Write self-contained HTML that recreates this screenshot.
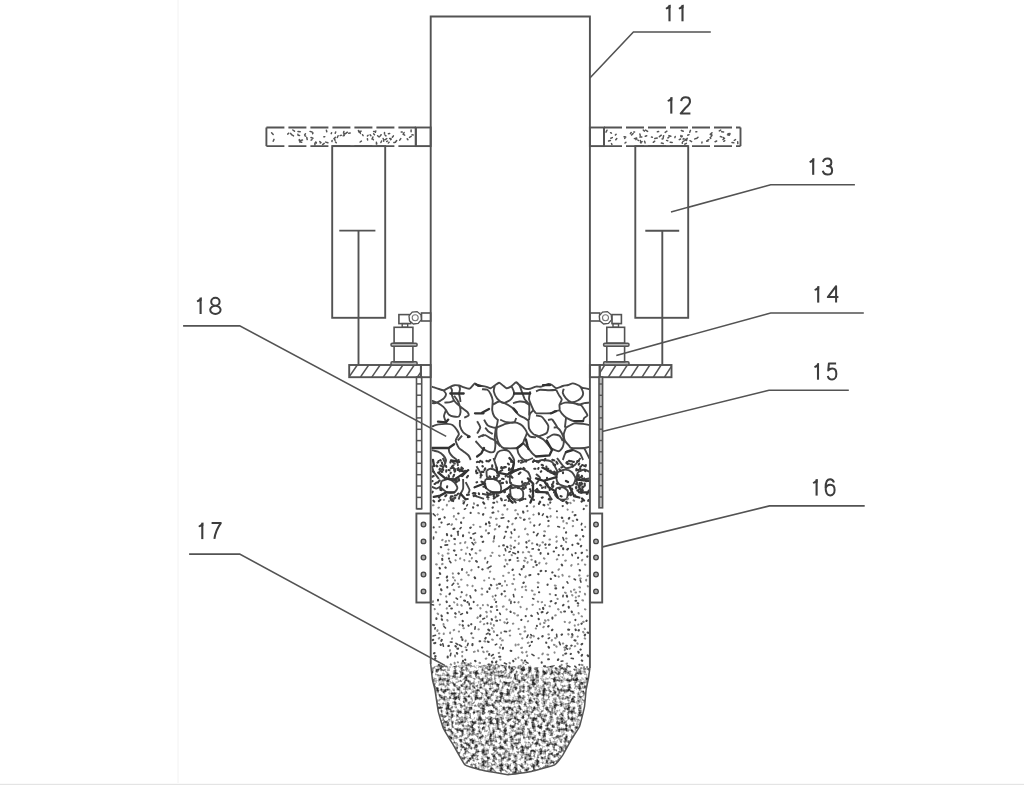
<!DOCTYPE html><html><head><meta charset="utf-8"><style>html,body{margin:0;padding:0;background:#fff;width:1024px;height:785px;overflow:hidden}svg{display:block}</style></head><body><svg width="1024" height="785" viewBox="0 0 1024 785"><defs>
<filter id="turb" x="425" y="640" width="170" height="145" filterUnits="userSpaceOnUse">
<feTurbulence type="fractalNoise" baseFrequency="0.28" numOctaves="2" seed="3" result="n"/>
<feColorMatrix type="matrix" values="0 0 0 0 0  0 0 0 0 0  0 0 0 0 0  -2.9 0 0 0 1.75" in="n" result="a"/>
<feFlood flood-color="#2c2c2c"/>
<feComposite in2="a" operator="in" result="c"/>
<feComposite in="c" in2="SourceGraphic" operator="in"/>
</filter>
<clipPath id="hl"><rect x="349.2" y="365" width="71.5" height="12.2"/></clipPath>
<clipPath id="hr"><rect x="599.7" y="365" width="72" height="12.2"/></clipPath>
<clipPath id="col"><rect x="431.6" y="370" width="157.4" height="140"/></clipPath>
<filter id="gb" x="0" y="0" width="1024" height="785" filterUnits="userSpaceOnUse"><feGaussianBlur stdDeviation="0.4"/></filter></defs><g filter="url(#gb)"><line x1="178" y1="0" x2="178" y2="783" stroke="#f2f2f2" stroke-width="1"/><path d="M430.7 664 L432.5 680 L435 690 L438.3 711.6 L443.3 728.2 L453.2 744.8 L464.9 764.8 L479.8 769.7 L508 774.7 L531.3 771.4 L554.6 764.8 L562.9 754.8 L571.2 739.8 L579.5 726.5 L584.5 706.6 L586.1 690 L588.5 678 L589.9 668 L589.9 668 L570 669 L555 665 L540 668 L525 664 L510 667 L495 663 L480 666 L465 662 L452 667 L440 664 L430.7 668Z" fill="#000" filter="url(#turb)"/><polyline points="430.7,664 430.7,16.5 589.9,16.5 589.9,668" stroke="#535353" stroke-width="1.9" fill="none"/><path d="M430.7 664C430.8 664.8 432.3 678.7 432.5 680C432.7 681.3 434.7 688.4 435 690C435.3 691.6 437.9 709.7 438.3 711.6C438.7 713.5 442.6 726.5 443.3 728.2C444 729.9 452.1 743 453.2 744.8C454.3 746.6 463.6 763.6 464.9 764.8C466.2 766 477.6 769.2 479.8 769.7C482 770.2 505.4 774.6 508 774.7C510.6 774.8 529 771.9 531.3 771.4C533.6 770.9 553 765.6 554.6 764.8C556.2 764 562.1 756 562.9 754.8C563.7 753.5 570.4 741.2 571.2 739.8C572 738.4 578.8 728.2 579.5 726.5C580.2 724.8 584.2 708.4 584.5 706.6C584.8 704.8 585.9 691.4 586.1 690C586.3 688.6 588.3 679.1 588.5 678C588.7 676.9 589.8 668.5 589.9 668" stroke="#535353" stroke-width="1.5" fill="none"/><path d="M266.4 127.5H415.8M266.4 146.1H415.8" stroke="#535353" stroke-width="1.8" stroke-dasharray="18 4" fill="none"/><line x1="266.4" y1="127.5" x2="266.4" y2="146.1" stroke="#535353" stroke-width="1.9"/><line x1="415.8" y1="127.5" x2="415.8" y2="146.1" stroke="#535353" stroke-width="1.9"/><rect x="415.8" y="127.5" width="14.9" height="18.6" stroke="#535353" stroke-width="1.9" fill="none" /><rect x="589.9" y="127.5" width="14.1" height="18.6" stroke="#535353" stroke-width="1.9" fill="none" /><path d="M604 127.5H740.5M604 146.1H740.5" stroke="#535353" stroke-width="1.8" stroke-dasharray="18 4" fill="none"/><line x1="604" y1="127.5" x2="604" y2="146.1" stroke="#535353" stroke-width="1.9"/><line x1="740.5" y1="127.5" x2="740.5" y2="146.1" stroke="#535353" stroke-width="1.9"/><rect x="332.2" y="146.1" width="53" height="171.7" stroke="#535353" stroke-width="1.9" fill="none" /><rect x="635.3" y="146.1" width="52.9" height="171.7" stroke="#535353" stroke-width="1.9" fill="none" /><line x1="339.3" y1="230.6" x2="375.4" y2="230.6" stroke="#535353" stroke-width="1.9"/><line x1="358.5" y1="230.6" x2="358.5" y2="365" stroke="#535353" stroke-width="1.9"/><line x1="645.3" y1="230.7" x2="679.2" y2="230.7" stroke="#535353" stroke-width="1.9"/><line x1="662.3" y1="230.7" x2="662.3" y2="365" stroke="#535353" stroke-width="1.9"/><rect x="349.2" y="365" width="71.7" height="12.2" stroke="#535353" stroke-width="1.9" fill="none" /><rect x="420.9" y="365" width="9.8" height="12.2" stroke="#535353" stroke-width="1.9" fill="none" /><rect x="589.9" y="365" width="9.8" height="12.2" stroke="#535353" stroke-width="1.9" fill="none" /><rect x="599.7" y="365" width="71.8" height="12.2" stroke="#535353" stroke-width="1.9" fill="none" /><g clip-path="url(#hl)"><line x1="349" y1="377.2" x2="357.3" y2="365" stroke="#535353" stroke-width="1.5"/><line x1="360.4" y1="377.2" x2="368.7" y2="365" stroke="#535353" stroke-width="1.5"/><line x1="371.8" y1="377.2" x2="380.1" y2="365" stroke="#535353" stroke-width="1.5"/><line x1="383.2" y1="377.2" x2="391.5" y2="365" stroke="#535353" stroke-width="1.5"/><line x1="394.6" y1="377.2" x2="402.9" y2="365" stroke="#535353" stroke-width="1.5"/><line x1="406" y1="377.2" x2="414.3" y2="365" stroke="#535353" stroke-width="1.5"/><line x1="417.4" y1="377.2" x2="425.7" y2="365" stroke="#535353" stroke-width="1.5"/><line x1="428.8" y1="377.2" x2="437.1" y2="365" stroke="#535353" stroke-width="1.5"/></g><g clip-path="url(#hr)"><line x1="585.8" y1="377.2" x2="593.6" y2="365" stroke="#535353" stroke-width="1.5"/><line x1="597" y1="377.2" x2="604.8" y2="365" stroke="#535353" stroke-width="1.5"/><line x1="608.3" y1="377.2" x2="616.1" y2="365" stroke="#535353" stroke-width="1.5"/><line x1="619.5" y1="377.2" x2="627.3" y2="365" stroke="#535353" stroke-width="1.5"/><line x1="630.8" y1="377.2" x2="638.6" y2="365" stroke="#535353" stroke-width="1.5"/><line x1="642" y1="377.2" x2="649.8" y2="365" stroke="#535353" stroke-width="1.5"/><line x1="653.3" y1="377.2" x2="661.1" y2="365" stroke="#535353" stroke-width="1.5"/><line x1="664.5" y1="377.2" x2="672.3" y2="365" stroke="#535353" stroke-width="1.5"/></g><rect x="391" y="361.8" width="26.1" height="3.2" rx="1.2" stroke="#535353" stroke-width="1.5" fill="#bbb"/><rect x="394.1" y="346.1" width="18.8" height="15.7" stroke="#535353" stroke-width="1.6" fill="none" /><rect x="391" y="343.2" width="26.1" height="3" rx="1.2" stroke="#535353" stroke-width="1.5" fill="#bbb"/><rect x="394.1" y="327.3" width="18.8" height="15.9" stroke="#535353" stroke-width="1.6" fill="none" /><rect x="603.6" y="361.8" width="25.4" height="3.2" rx="1.2" stroke="#535353" stroke-width="1.5" fill="#bbb"/><rect x="606.8" y="346.1" width="17.8" height="15.7" stroke="#535353" stroke-width="1.6" fill="none" /><rect x="603.6" y="343.2" width="25.4" height="3" rx="1.2" stroke="#535353" stroke-width="1.5" fill="#bbb"/><rect x="606.8" y="327.3" width="17.8" height="15.9" stroke="#535353" stroke-width="1.6" fill="none" /><rect x="398.9" y="314.6" width="11.8" height="9" stroke="#535353" stroke-width="1.6" fill="none" /><rect x="402.2" y="323.6" width="5.5" height="3.7" stroke="#535353" stroke-width="1.4" fill="none" /><rect x="421.5" y="313" width="9.2" height="8" stroke="#535353" stroke-width="1.6" fill="none" /><polygon points="421.4,319.7 418.2,323.5 413.3,324 409.5,320.8 409,315.9 412.2,312.1 417.1,311.6 420.9,314.8" stroke="#535353" stroke-width="1.3" fill="#fff"/><circle cx="415.2" cy="317.8" r="3" stroke="#777" stroke-width="1.1" fill="#fff"/><rect x="612" y="314.6" width="9.4" height="9" stroke="#535353" stroke-width="1.6" fill="none" /><rect x="613" y="323.6" width="5.5" height="3.7" stroke="#535353" stroke-width="1.4" fill="none" /><rect x="589.9" y="313" width="9.8" height="8" stroke="#535353" stroke-width="1.6" fill="none" /><polygon points="611.7,319.7 608.5,323.5 603.6,324 599.8,320.8 599.3,315.9 602.5,312.1 607.4,311.6 611.2,314.8" stroke="#535353" stroke-width="1.3" fill="#fff"/><circle cx="605.5" cy="317.8" r="3" stroke="#777" stroke-width="1.1" fill="#fff"/><rect x="416.5" y="377" width="5.2" height="131.7" stroke="#535353" stroke-width="1.6" fill="none" /><line x1="416.5" y1="383.9" x2="421.7" y2="383.9" stroke="#535353" stroke-width="1.5"/><line x1="416.5" y1="395.2" x2="421.7" y2="395.2" stroke="#535353" stroke-width="1.5"/><line x1="416.5" y1="406.6" x2="421.7" y2="406.6" stroke="#535353" stroke-width="1.5"/><line x1="416.5" y1="417.9" x2="421.7" y2="417.9" stroke="#535353" stroke-width="1.5"/><line x1="416.5" y1="429.3" x2="421.7" y2="429.3" stroke="#535353" stroke-width="1.5"/><line x1="416.5" y1="440.6" x2="421.7" y2="440.6" stroke="#535353" stroke-width="1.5"/><line x1="416.5" y1="452" x2="421.7" y2="452" stroke="#535353" stroke-width="1.5"/><line x1="416.5" y1="463.3" x2="421.7" y2="463.3" stroke="#535353" stroke-width="1.5"/><line x1="416.5" y1="474.7" x2="421.7" y2="474.7" stroke="#535353" stroke-width="1.5"/><line x1="416.5" y1="486" x2="421.7" y2="486" stroke="#535353" stroke-width="1.5"/><line x1="416.5" y1="497.4" x2="421.7" y2="497.4" stroke="#535353" stroke-width="1.5"/><line x1="416.5" y1="508.8" x2="421.7" y2="508.8" stroke="#535353" stroke-width="1.5"/><rect x="599" y="377" width="3.6" height="130.8" stroke="#535353" stroke-width="1.6" fill="#bdbdbd" /><line x1="599" y1="384" x2="602.6" y2="384" stroke="#535353" stroke-width="1.4"/><line x1="599" y1="395.3" x2="602.6" y2="395.3" stroke="#535353" stroke-width="1.4"/><line x1="599" y1="406.6" x2="602.6" y2="406.6" stroke="#535353" stroke-width="1.4"/><line x1="599" y1="417.9" x2="602.6" y2="417.9" stroke="#535353" stroke-width="1.4"/><line x1="599" y1="429.2" x2="602.6" y2="429.2" stroke="#535353" stroke-width="1.4"/><line x1="599" y1="440.5" x2="602.6" y2="440.5" stroke="#535353" stroke-width="1.4"/><line x1="599" y1="451.8" x2="602.6" y2="451.8" stroke="#535353" stroke-width="1.4"/><line x1="599" y1="463.1" x2="602.6" y2="463.1" stroke="#535353" stroke-width="1.4"/><line x1="599" y1="474.4" x2="602.6" y2="474.4" stroke="#535353" stroke-width="1.4"/><line x1="599" y1="485.7" x2="602.6" y2="485.7" stroke="#535353" stroke-width="1.4"/><line x1="599" y1="497" x2="602.6" y2="497" stroke="#535353" stroke-width="1.4"/><rect x="416.4" y="513.5" width="14.3" height="89" stroke="#535353" stroke-width="1.9" fill="none" /><rect x="589.9" y="513.5" width="12.3" height="89" stroke="#535353" stroke-width="1.9" fill="none" /><circle cx="423.5" cy="524.5" r="2.3" stroke="#444" stroke-width="1.3" fill="#aaa"/><circle cx="596" cy="524.5" r="2.3" stroke="#444" stroke-width="1.3" fill="#aaa"/><circle cx="423.5" cy="541.4" r="2.3" stroke="#444" stroke-width="1.3" fill="#aaa"/><circle cx="596" cy="541.4" r="2.3" stroke="#444" stroke-width="1.3" fill="#aaa"/><circle cx="423.5" cy="557.5" r="2.3" stroke="#444" stroke-width="1.3" fill="#aaa"/><circle cx="596" cy="557.5" r="2.3" stroke="#444" stroke-width="1.3" fill="#aaa"/><circle cx="423.5" cy="574.5" r="2.3" stroke="#444" stroke-width="1.3" fill="#aaa"/><circle cx="596" cy="574.5" r="2.3" stroke="#444" stroke-width="1.3" fill="#aaa"/><circle cx="423.5" cy="591.4" r="2.3" stroke="#444" stroke-width="1.3" fill="#aaa"/><circle cx="596" cy="591.4" r="2.3" stroke="#444" stroke-width="1.3" fill="#aaa"/><g clip-path="url(#col)"><path d="M431.6 386.6C432.2 386.8 435.6 388 437 388.4C438.4 388.8 442.3 390.2 443.4 390.3C444.4 390.4 445.2 389.6 446 389.2C446.8 388.8 449.3 387.3 450.3 386.8C451.3 386.3 453.6 385.4 454.6 385.2C455.6 385 457.9 385.3 458.9 385.5C459.9 385.7 462 386.7 463.2 387.1C464.4 387.5 468.2 389.1 469.6 388.7C471 388.3 473.9 383.7 474.9 383.4C475.9 383.1 477.4 385.7 478.2 386C479 386.3 480.9 385.9 482 386C483.1 386.1 486.4 386.8 487.4 387.1C488.4 387.4 489.7 388.4 490.6 388.2C491.5 388 493.8 386.1 494.8 385.5C495.8 384.9 498.2 382.9 499.1 382.8C500 382.7 501.4 384.4 502.3 385C503.2 385.6 505.6 388 506.6 388.2C507.6 388.4 509.8 387.3 510.9 386.6C512 385.9 515.2 382.5 516.2 382.3C517.2 382.1 518.5 384.3 519.5 385C520.5 385.7 523.6 388.3 524.8 388.7C526 389.1 528.9 388.9 530.2 388.7C531.5 388.5 534.7 386.8 536 386.6C537.3 386.4 540 386.9 541.4 386.6C542.8 386.3 547.1 384.1 548.3 383.9C549.5 383.7 551.1 384.5 552 385C552.9 385.5 555 388.1 556.3 388.2C557.6 388.3 561.4 386.4 562.8 386C564.2 385.6 566.9 385.3 568.1 385C569.3 384.7 571.7 383.3 572.9 383.4C574.1 383.5 577.7 385 578.8 385.5C579.9 386 580.8 387.2 582 387.6C583.2 388 588.6 389 589.5 389.2M443.4 390.3C443.7 390.7 445.9 393.1 446 394C446.1 394.9 445 397 444.4 397.8C443.8 398.6 441.8 399.9 440.7 400.5C439.6 401.1 436.5 402.8 435.4 403.1C434.3 403.4 432 403.1 431.6 403.1M431.6 400.5C432.3 400.8 436.6 402.4 438 403.1C439.4 403.8 442.5 406.1 443.4 406.9C444.3 407.7 445.4 409.2 446 410.1C446.6 411 447.8 413.7 448.7 414.4C449.6 415.1 452.3 416.3 453.5 416.5C454.7 416.7 458.1 417 458.9 416.5C459.7 416 460.4 413.3 460.5 412.2C460.6 411.1 460.3 408.2 460 406.9C459.7 405.6 458.5 402.3 457.8 401C457.1 399.7 454.5 396.3 454.1 395.7M444.4 402.6C445.1 402.5 449.2 402.3 450.3 402.1C451.4 401.9 453.7 400.7 454.1 400.5M450.3 386.8C450.5 387.2 451.9 389.2 452 390C452.1 390.8 451.5 393.1 451.4 393.5M458.9 385.5C459 385.9 460 388.1 460 389C460 389.9 459.1 393 459 393.5M451.4 393.5C451.6 394.2 452.9 398.2 453.5 399.4C454.1 400.6 455.8 402.7 456.8 403.7C457.8 404.7 460.9 407 462.1 408C463.3 409 466.8 411.3 467.5 412.2C468.2 413.1 468.9 414.9 468.5 415.5C468.1 416.1 464.7 417.4 464.2 417.6M458.9 393.5C459 394.1 459.8 397.3 460 398.3C460.2 399.3 460.4 401.7 460.5 402.1M494.8 385.5C494.7 386.2 493.5 389.9 493.8 391.4C494.1 392.9 495.9 396.9 497 398.3C498.1 399.7 501.8 403 503.4 403.1C505 403.2 509.7 400.5 510.9 399.4C512.1 398.3 514 394.9 514.1 393.5C514.2 392.1 512.4 387.9 512 387.1C511.6 386.3 511 386.7 510.9 386.6M482 389.2C482.6 389.3 486.4 389.2 487.4 389.8C488.4 390.4 490 392.8 490.6 394C491.2 395.2 492.5 398.6 492.7 400.5C492.9 402.4 492 408.2 492.2 410.1C492.4 412 493.6 415.3 494.3 416.5C495 417.7 497.6 419.6 498 420M492.7 404.8C493.4 404.4 497.7 401.7 499.1 401.5C500.5 401.3 503 402.4 504.5 403.1C506 403.8 510.8 406.5 512 407.4C513.2 408.3 514.3 410.3 515.2 411.2C516.1 412.1 518.4 414.7 519.5 415.5C520.6 416.3 524.2 417.8 524.8 418.1M513 403.1C513.8 402.9 518.1 401.6 519.5 401.5C520.9 401.4 523.7 401.7 524.8 402.1C525.9 402.5 528.6 404.5 529.1 404.8M516.2 382.3C516.6 382.7 518.7 384.1 519.5 385.5C520.3 386.9 522.1 392.4 522.7 394C523.3 395.6 524.1 398.1 524.8 399.4C525.5 400.7 528.6 402.9 529.1 404.8C529.6 406.7 529.1 414.3 529.1 415.5M530.2 391.4C530.1 392.3 528.7 397.2 529.1 399.4C529.5 401.6 532.9 408.9 533.4 410.1M536 391.4C536.5 391.2 538.7 389.9 540.3 389.8C541.9 389.7 547.5 390.3 549.4 390.3C551.3 390.3 555.5 389.9 556.3 389.8M556.3 389.8C556.6 390.4 558.4 394 559 395.1C559.6 396.2 561.6 398.3 561.7 399.4C561.8 400.5 559.8 403.6 559.5 404.8C559.2 406 560.1 409.4 559.5 410.1C558.9 410.8 555.7 410.8 554.7 411.2C553.7 411.6 553.2 413.1 551 413.3C548.8 413.5 537.8 413.3 536 413.3M533.4 410.1 L536 413.3M563.8 388.7C563.7 389.2 562.5 391.9 562.8 393C563.1 394.1 565 397.2 566 398.3C567 399.4 569.9 401.8 571.3 402.1C572.7 402.4 576.5 401.1 577.7 400.5C578.9 399.9 581.4 397.6 582 396.7C582.6 395.8 583.2 394.1 583.1 393C583 391.9 581.5 388.5 581 387.6C580.5 386.7 579.1 385.7 578.8 385.5M559.5 404.8C560.1 404.5 563.3 402.8 564.9 402.6C566.5 402.4 571.9 402.8 573.5 403.1C575.1 403.4 577.6 404.8 578.8 404.8C580 404.8 583 403.4 584.2 403.1C585.4 402.8 588.9 402.7 589.5 402.6M559.5 410.1C559.8 410.5 560.9 412.4 561.7 413.3C562.5 414.2 564.9 416.8 566 417.6C567.1 418.4 569.8 419.6 570.8 420C571.8 420.4 574.1 421.1 574.5 421.2M573.5 403.1C574.4 403.4 579.6 404.4 581 405.3C582.4 406.2 584.5 410 585.2 411.2C585.9 412.4 587.5 414.7 587.4 415.5C587.3 416.3 584.7 417.3 584.2 418C583.7 418.7 583.2 420.8 583.1 421.2M536 415.5C536.6 415.6 540.4 416 541.4 416.5C542.4 417 543.8 418.9 544.6 420C545.4 421.1 548.1 424.5 548.3 426C548.5 427.5 547.8 431.8 546.7 433C545.6 434.2 540.4 436 539.2 436.2C538 436.4 536.4 435.2 536 435.1M533.4 410.1C533 410.6 530.5 412.8 530 414C529.5 415.2 529.1 419.3 529 420M431.6 426.6C432.4 426.3 436.8 424.7 438.6 424.4C440.4 424.1 445.5 423.8 447.1 423.9C448.7 424 451.4 424.3 452.5 425C453.6 425.7 456.1 428.7 456.8 429.8C457.5 430.9 459 432.9 458.9 434.1C458.8 435.3 455.7 438.9 455.7 440.5C455.7 442.1 458 446.8 458.9 448C459.8 449.2 462.1 450.3 463.2 451.2C464.3 452.1 467.6 454.5 468.5 455.5C469.4 456.5 470.4 459.5 470.7 460M460 420.1C460 420.8 459.6 424.6 460 426C460.4 427.4 462.1 431.2 463.2 432.4C464.3 433.6 468.9 436.2 469.6 436.7M462.1 435.7 L457.8 440.5M477.1 421.2C477.5 421.9 480.3 426.2 480.3 427.6C480.3 429 477.5 432.8 477.1 433.5M448.7 448C448.8 448.5 448.9 451.2 449.3 452.2C449.7 453.2 451.6 455.6 452.5 456.5C453.4 457.4 456.2 458.9 456.8 460C457.4 461.1 457.9 465.3 458 466M431.6 450.1C432.3 450.3 436.6 451.1 438 451.7C439.4 452.3 442.5 454.5 443.4 455.5C444.3 456.5 445.8 459.1 446 460C446.2 460.9 445.7 462.1 445.3 463.1C444.9 464.1 443.4 467.1 442.7 468.2C442 469.3 439.3 472.1 438.9 472.6M478.2 437.3 L484 434.6M475.5 441C476.1 441.6 479.3 445.3 480.3 446.4C481.3 447.5 483.6 449.7 484 450.1M446 410.1C445.8 410.8 444 414.6 444 416C444 417.4 445.8 421.6 446 422.3M497 427.6C498 427.2 503.5 424.5 505.5 423.9C507.5 423.3 512.4 422.2 514.1 422.3C515.9 422.4 519.3 423.7 520.5 424.4C521.7 425.1 524.1 427.7 524.8 428.7C525.5 429.7 527 431.8 526.9 433C526.8 434.2 524.8 438.2 524.3 439.4C523.8 440.6 523.5 442.7 522.7 443.7C521.9 444.7 519.6 447.5 517.3 448C515 448.5 505.5 448.5 503.4 448C501.3 447.5 499.8 444.8 499.1 443.7C498.4 442.6 497.3 439.7 497 438.3C496.7 436.9 496.4 432.6 496.4 431.4C496.4 430.2 496.9 428 497 427.6M500.2 419.6C500.9 419.9 505 422 506.6 422.3C508.2 422.6 513 422.8 514.1 422.3C515.2 421.8 516 418.5 516.2 418M484.1 419.6C484.5 420.3 486.5 424.6 487.9 425.5C489.3 426.4 494.7 428.3 495.9 427.6C497.1 426.9 497.8 420.1 498 419.1M495.9 427.6C495.8 428.7 494.9 434.7 494.8 436.7C494.7 438.7 495.5 443.1 495.4 444.8C495.3 446.5 494.9 450.3 494.3 451.2C493.7 452.1 491.2 452.4 490 452.2C488.8 452 485 450.1 484.1 449.6C483.2 449.1 482.2 448.2 482 448M482 436.2C482.4 436.1 484.2 434.9 485.2 435.1C486.2 435.3 489.5 437.7 490.6 438.3C491.7 438.9 493.7 439.6 494.8 440.5C495.9 441.4 499.6 445.7 500.2 446.4M485.2 427.6C485.6 428 487.5 430.7 488.4 431.4C489.3 432.1 492.2 433.7 492.7 434M494.3 460C494.7 459.1 496.9 453.4 498 452.2C499.1 451 502.1 450.2 503.4 450.1C504.7 450 507.8 450.6 508.8 451.2C509.8 451.8 511.4 454.5 512 455.5C512.6 456.5 513.9 459.1 514.1 460C514.3 460.9 514 462 513.8 463.1C513.6 464.2 513.2 468.3 512.6 469.5C512 470.7 509.2 472.9 508.8 473.3M517.3 448C517.4 448.6 517.8 452.1 518.4 453.3C519 454.5 521.7 457.9 522.7 458.7C523.7 459.5 525.4 460.6 526.6 460.5C527.8 460.4 532.3 458.3 533 458M523.7 443.7C524.2 444.2 527 446.9 528 448C529 449.1 531.4 452.3 532.3 453.3C533.2 454.3 535.6 456.1 536 456.5M527 433C527.4 433.4 529.2 436.2 530.2 436.7C531.2 437.2 535.3 437.2 536 437.3M528.5 420.7C528.6 421.6 528.5 427.1 529.1 428.7C529.7 430.3 532.6 433.4 533.4 434.1C534.2 434.8 535.7 435 536 435.1M524.8 418.1 L528.5 420.7M566 427.6C567 427.1 572.5 423.8 574.5 423.4C576.5 423 581.4 423.7 583.1 423.9C584.8 424.1 588.3 424.9 589 425M566 427.6C565.7 428.4 563.9 432.6 563.8 434.1C563.7 435.6 564.3 439.1 564.9 440.5C565.5 441.9 568.5 444.9 569.2 445.8C569.9 446.7 569.5 447.7 571.3 448C573 448.3 582.1 448.1 584.2 448C586.3 447.9 588.4 447 589 446.9M536 435.7C536.9 436.1 541.8 438 543.5 439.4C545.2 440.8 549.2 446.6 551 448C552.8 449.4 557.1 451.3 558.5 451.2C559.9 451.1 562.2 448.3 562.8 446.9C563.4 445.5 563.9 441 563.8 439.4C563.7 437.8 562.4 434.4 561.7 433C561 431.6 558.3 428.2 557.4 427.6C556.5 427 554.1 427.6 553.7 427.6M546.7 438.3C547.4 437.9 551.6 434.9 553.1 434.6C554.6 434.3 558.4 435 559.5 435.7C560.6 436.4 562.4 440.4 562.8 441M552 419.1C552.5 419.8 555.7 424.5 556.3 425.5C556.9 426.5 557.3 427.4 557.4 427.6M566 418 L564.9 427.6M562.8 460C563.2 459.1 564.9 453.4 566 452.2C567.1 451 570.8 450 572.4 450.1C574 450.2 578.7 452.1 579.9 453.3C581.1 454.5 582.7 459.2 583.1 460M584.2 448C584.6 448.7 586.8 453.2 587.4 454.4C588 455.6 589.3 458.2 589.5 458.7M564.9 441 L569.2 445.8M548 420 L552 419.1M441.5 481C442.2 480.8 446.3 478.9 447.8 479C449.3 479.1 453.1 481.2 454.2 482.2C455.3 483.2 457.4 486.7 457.4 487.9C457.4 489.1 455.4 491.9 454.2 492.4C453 492.9 448.8 493 447.2 492.4C445.6 491.8 441.5 488.6 440.8 487.3C440.1 486 441.4 481.7 441.5 481M442.7 458 L445.3 463.1M431.9 465.6C432.1 466.3 433 470.4 433.8 472C434.6 473.6 438.3 478.2 438.9 479M431.9 486.7C432.4 486.9 435.4 488.6 436.4 488.6C437.4 488.6 439.8 486.9 440.2 486.7M463.1 479C463.1 480.1 463.4 486.9 463.1 488.6C462.8 490.3 461.1 492.4 460.6 493.7C460.1 495 458.9 498.7 458.7 499.4M465.7 482.2C466.1 483.1 469.2 488.5 469.5 489.8C469.8 491.1 468.4 493.2 468.2 493.7M476.5 466.3C477 467.2 480.6 472.5 481 473.9C481.4 475.3 480.4 477.9 480.3 478.4M475.9 496.2 L484 498.8M451 460.5 L455.5 464.4M485.8 479C486.7 479 492 478.7 493.5 479C495 479.3 497.7 480.6 498.6 481.6C499.5 482.6 501 486 501.1 487.3C501.2 488.6 500.8 491.8 499.8 492.4C498.8 493 494.4 492.9 492.8 492.4C491.2 491.9 486.8 488.9 485.8 487.9C484.8 486.9 484.5 484.5 484.5 483.5C484.5 482.5 485.6 479.5 485.8 479M510 474.6C510.6 474.1 513.8 471.4 515.1 470.7C516.4 470 520 468.6 521.5 468.8C523 469 526.9 470.9 527.9 472C528.9 473.1 530.6 476.9 530.4 478.4C530.2 479.9 527.6 483.9 526.6 484.8C525.6 485.7 523 485.9 521.5 486C520 486.1 515.1 485.8 513.8 485.4C512.5 485 510.4 483.5 510 482.2C509.6 480.9 510 475.5 510 474.6M510 488.6C510.9 488.4 516.2 487 517.7 487.3C519.2 487.6 522.2 489.9 522.8 491.1C523.4 492.3 523.4 496.5 522.8 497.5C522.2 498.5 519 500 517.7 500C516.4 500 512.2 498.8 511.3 497.5C510.4 496.2 510.2 489.6 510 488.6M486.5 470.7C486.9 470.5 489.2 468.8 490.3 468.8C491.4 468.8 495 469.9 496 470.7C497 471.5 499.5 474.8 499.2 475.8C498.9 476.8 494.9 478.8 493.5 479C492.1 479.2 487.9 478.1 487.1 477.1C486.3 476.1 486.6 471.4 486.5 470.7M482 493.7C482.7 493.8 486.9 494.9 488.4 494.9C489.9 494.9 494 493.8 494.7 493.7M493.5 458 L496.6 467.6M520.2 463.1 L526.6 460.5M521.5 486C521.9 485.6 524 483.2 525 483C526 482.8 529.4 483.9 530 484M557.7 472C558.6 471.7 563.7 469.5 565.3 469.5C566.9 469.5 570.5 471 571.7 472C572.9 473 575.3 476.9 575.5 478.4C575.7 479.9 574 483.8 573 484.8C572 485.8 568.2 486.8 566.6 486.7C565 486.6 560.1 485.1 558.9 484.1C557.7 483.1 556.5 479.8 556.4 478.4C556.3 477 557.5 472.7 557.7 472M556.4 488C557.1 487.9 561.5 486.9 562.8 487.3C564.1 487.7 567.4 489.8 567.8 491.1C568.2 492.4 567.5 497.8 566.6 498.8C565.7 499.8 561.5 499.8 560.2 499.4C558.9 499 555.5 496.3 555.1 495C554.7 493.7 556.2 488.8 556.4 488M578 472C578.7 471.7 583.1 469.5 584.4 469.5C585.7 469.5 588.9 471.7 589.5 472M589.5 478.4C588.5 478.6 582.1 479.9 580.6 479.7C579.1 479.5 577.1 478 576.8 477.1C576.5 476.2 577.9 472.6 578 472M557 458C557.7 458.9 561.7 464.4 562.8 465.6C563.9 466.8 565.3 468.2 566.6 468.2C567.9 468.2 572.6 466.8 574.2 465.6C575.8 464.4 579.9 458.9 580.6 458M575.5 478.4C575.8 479.1 577.4 483.5 578 484.8C578.6 486.1 580.1 488.8 580.6 489.8C581.1 490.8 581.7 493.2 581.9 493.7M536 462C536.7 461.8 540.1 460 542 460C543.9 460 550.2 460.6 552 462C553.8 463.4 557 470.8 557.7 472M536 474C536.5 474.5 540 476.8 540 478C540 479.2 536.5 483.3 536 484M547.5 492.4 L552 500" stroke="#474747" stroke-width="1.9" fill="none" stroke-linejoin="round"/><path d="M438 421.7 L446 422.3 L448.2 419.6M450.3 393.5 L455.7 393.5 L463.7 393.5M475 413.3 L483.5 413.3M514.1 393.5 L519.5 393.5 L530.2 393.5M482 412.8 L489 409M513.6 408.5 L516.8 412.2M543 385.2 L550 385.2M476 384.5 L480.5 385.8M551 413.3 L556 411.2M574.5 421.2 L583.1 421.2M431.6 448 L448.7 448 L454.1 444.2M468 437 L469.6 436.7M484 448 L481.4 453.3 L477.1 456.5M517.3 448 L522.7 443.7M525.9 439.4 L527.5 445.8 L528.5 449M546.7 440.5 L552 450.1 L549.4 455.5 L536 456.5M447.2 492.4 L454.2 492.4M438.3 472.6 L445.3 478.4 L454.2 479.7 L461.8 474.6 L468.2 470.1M458 470 L466 472 L462 476M451 460.5 L459.3 461.8M433.8 496.9 L440.2 495.6 L445.9 492.4M460.6 493.7 L465.7 499.4M474.6 487.3 L481 484.8 L484 483.5M496.6 467.6 L497.3 472.6 L507.5 474.6 L510.7 472.6 L520.2 468.8M492.2 492.4 L500.5 492.4 L507.5 488.6 L510.7 486M527.9 478.4 L533 483.5 L533 496.2 L530.4 502.6M507.5 496.2 L510 500 L512.6 502.6M509.4 458 L513.8 463.1 L512.6 469.5M576.8 479.7 L590 481M580.6 492.4 L590 492.4M536 491.8 L547.5 492.4M542.4 467.6 L549 471 L555.1 474.6M536 478.4 L543.6 480.9 L556.4 477.1M544.9 482.2 L548.7 487.3 L555.1 491.1 L557.7 497.5M569.1 486 L571.7 491.1 L574.2 496.2 L579.3 497.5M582 498.5 L584 500.5M484.5 483.5 L486 488M433 460 L434 466M566 481 L568 482M566 452.2 L572.4 450.1" stroke="#303030" stroke-width="2.3" fill="none" stroke-linecap="round"/><path d="M482.8 466.5l-0.4 -0.5M511.7 461.6l-0.6 0.3M446.2 478.3l0.3 -0.6M580.8 484.8l-1.7 1.3M439.3 496.9l-0.2 0.7M450.5 473.3l0.3 -0.7M523.3 487.5l-1 1M441.9 462.6l0.5 1.6M499.1 473.5l-1.1 -0.7M479.1 494.2l-0.3 -0.9M522.2 482.6l-0.1 -1M585.9 465.1l-1.6 0.9M455.9 481l1.6 0.4M552 484.6l0.7 -0.7M541.2 485.6l-1.1 -0.6M563.9 500.6l-1.6 0.3M441.5 490.2l-1.3 -1.7M537 461l-0.8 0.2M450.4 462.5l0.1 -0.7M568.8 463.5l-1.4 0.5M570.7 495.2l0.6 -0.7M497.2 475.4l0.7 -0.2M459.7 470l0.1 1.3M581.6 489.7l-1.5 -0.2M538.2 462.3l1.5 -1.1M569.3 494.3l-0.9 0.7M442.6 469l0.6 0.9M440.3 460l0.4 0.5M489.1 461.1l1.1 -1.1M455.3 470.8l-0.6 0.9M451.3 496.5l1.3 -0.1M508 463.7l0.9 0.6M473.6 495.6l0.3 0.5M581.3 482.7l0.9 1.1M436.2 482.7l1.9 -0.3M541.3 471.2l-0.5 0.6M553.2 482.9l0.2 -1M467 494.9l1.9 -0.2M487.8 461.2l1 0.2M582.2 479.2l2 -0.8M581.9 475.7l0.2 0.9M462.9 468.8l-1.4 -1.4M557.5 463.6l-1.1 -1.7M554.8 492.3l-0.8 0.1M555.9 474.3l0.7 -2M494.1 477.3l-0.1 -0.8M451.9 466.5l1.5 -1.1M454.9 495.5l1.6 -0.2M434.2 501.7l-0.8 -1.1M578.6 478.7l1.3 -1.4M465.1 470.8l-0.2 0.9M452.6 499.1l-0.8 1M523.6 498.9l-1.8 1M510.8 482.9l-0.5 -0.1M501.1 467.9l1.9 0M459.1 480.4l-0.2 -1.4M483.2 482.3l-1.7 -0.6M475.5 493.2l-1.5 -0.1M551.3 499.2l-1.4 0.5M503 482.9l-2.1 0.3M541.8 497.7l0.9 -0.3M519.8 500.6l0.4 -0.6M451.1 479l0.8 0.4M572.8 466.6l-0.3 -1.6M454.4 498l0.9 -0.2M581.5 477.1l-2.2 0.2M562.7 466.9l-1.3 0.6M485.2 468.4l-0.7 1.6M435.1 483.8l-0.5 0.2M484 486.8l-0.6 -0M586.7 493.9l0.7 -0.1M554.3 471.6l0.8 0.9M575.1 495.2l-0 0.8M576.3 484.5l-0.2 -0.6M441 489.6l-0.6 0.3M579.3 487.3l0.2 -0.6M566.4 462.9l0.8 -1M485.2 483.8l-0.1 0.7M514.7 470.3l0.6 0.5M439.9 468.7l-0.4 0.9M551.2 472.5l-0.8 -0M486.5 460.8l-0 0.5M547.1 483.7l0.5 1.2M578.7 464.6l0.5 -1.1M509.7 495.9l-1.1 0.8M540 502.2l-1.1 1.6M543 487.3l-0.9 0.6M440.5 465.6l1.6 0.8M445.3 496.2l1.1 -1.2M476.3 470.4l-0.3 1.2M456.7 479.2l-0.2 2.1M584.7 483.5l0.1 2.1M480.6 475.3l1.1 0M506.5 481.6l0.4 1.3M432.8 471.4l1 0.6M438.5 461l-0.3 0.8M535.2 490.8l0.8 -0.8M483.2 502.3l1 1.4M533 461.9l1 -1.7M530.5 491.6l0.3 -0.7M572.2 489.4l-0.3 -0.8M436.9 465.7l-0.4 0.5M530.3 489.3l-0.5 0M547.7 470.8l0.8 0.4M546.5 468.8l-0.1 -2.2M509.5 476.5l-1.6 0.2M552.4 486.5l-0.4 -0.5M455.1 470.9l-0 -1M521.1 460.5l0.9 0.4M537.5 489.8l-0.4 -0.9M450.6 498.4l0.7 2.1M579 460.8l-1.8 0.5M584 479.3l-0.1 0.9M580.5 469.1l-0.6 -0.4M514.3 501l1.3 1.4M511.9 498.1l-0.3 -0.9M432.6 481.1l-1 0.3M454.1 474.8l-0.8 1.8M432.3 492.3l0.4 -0.6M577.4 490.7l0.8 -0.6M490.4 476.9l-0.9 -0.6M499.2 471.8l0.6 0.2M563 472.3l0 1M512.2 468.2l-1.5 1.5M570.8 494.9l-1.4 -1.5M579.7 483.6l-0.1 -0.6M547 479.4l0 -1.6M476.9 462.1l0.6 -0.3M506.1 474.8l-0.5 1.7M585.3 471.2l-0.6 -0.8M457.4 468.9l1.1 -0.7M466.5 499l1.3 -0M453.9 468.3l0.9 0.6M446.3 470.3l-0.1 1.5M571.3 492.2l-1 0.6M441.7 471.9l0.7 -0.1M511 487.1l0.6 -0.7M494.8 479.2l1.9 -0.6M569 460.9l1.7 0.3M432 476.8l1.7 -0.8M566.3 501.8l0 0.7M456.2 482.5l-0.9 -1.9M545.3 487.8l0.1 -1.3M518.6 461.7l0.2 -0.9M576.4 487.8l-0.2 0.7M541.7 464.8l1.3 0.6M526.4 460.4l-0.4 1.2M582.6 487.7l1 -0.9M582.8 490.3l-0.2 0.5M577.3 469.8l1.1 0.2M464.2 501.7l-0.7 1.8M551.4 472.7l1.3 -0.4M461.4 469.6l-1.4 0.8M581 466.3l-0.7 0.5M584.9 466.1l0.6 0.2M493.8 498.6l1.3 -1.2M588.6 500.1l-0.4 0.7M578.9 492.1l1.6 0.3M458.6 460.1l-0.2 1.1M582 465.3l0.8 -0.2M488 495.3l0.5 -1.1M439.7 480.4l-1.4 1.5M462.3 475.7l0.4 -0.3M496.5 494.9l0.1 -0.6M437.5 462.7l0.8 -0.5M549.3 498.6l-0.5 0.8M582.4 486.5l-0.1 1.7M481.7 471.9l1.8 0M575.9 487.3l0.5 -0.2M582.2 501l-0.7 0.6M499.5 481.2l0.7 -0.4M553.3 486.1l-0.5 0.9M488.8 493.6l0.7 0.4M550.2 470.6l0.5 0.2M518.8 474l1.6 -1.5M502.2 470.1l-1.3 0.8M537.8 492.2l0.9 -1.3M451 496.2l-0.4 1.4M490.6 491.7l0.3 0.9M494.2 502.7l-0.9 -0M558.9 488.1l1 0.8M560.6 496.1l1 0.3M450.7 468.2l1.5 -0.3M578 476l0.8 -0.9M472.8 493.4l0.6 -0.2M525.6 486.7l0.2 1.1M454.2 468.8l-0 1.5M534.3 468.7l1.1 0.1M538.5 468l-0.3 0.8M556.9 483.6l0.6 0.3M446.3 467l-0.4 -1.1M476.5 473.2l1 -0.3M567.7 502.9l-0.5 0.6M546.3 468.8l2 0.1M498.5 495.3l-1.7 1.1M504.4 467l1.4 0.1M532.6 499.1l1.3 0.8M476.5 482.4l0.6 -0.3M509 494.6l0.8 -0.2M451.9 500.6l1.3 -0.2M440.4 499.8l-1.6 1.3M529.4 495.5l1 1.6M466.9 477.4l1.1 -1.6M460.7 469.4l-1.1 0.8M492.2 465.3l0 1.7M572.9 461.8l-1.7 -0.7M438 496l1.1 1M518.4 487l-0.4 1.1M502.1 478.8l1.5 0.2M508.9 470.1l0.2 -1.8M504 467.7l-0.7 0.1M452.2 478.5l1 0.7M512.1 461.8l-0.4 -0.5M547.2 493.4l-0.6 -0M511.1 476.2l1.3 1.5M588.4 491.5l0.3 -0.8M586.1 481.2l2 -0.6M457.9 493.9l0.6 -0.3M487.1 492.5l1.1 1.7M475.2 495.1l0.8 1.1M576.4 469l-0.1 1.4M482.1 461.6l0.3 0.7M579 489.2l0.6 -0.5M555.2 464.9l-1.6 -0.3M488.5 497.5l-1.4 -0.5M570.6 464.5l1.6 -0.1M493.9 494.3l-0.2 2.2M501.4 467.6l-0 -0.6M560.7 470.9l-1.4 -1.7M524 488.5l-0.2 0.5M437.3 466.4l-0.9 -0.8M512.5 498.5l0.6 0.7M534.5 461l1.1 0M448.7 475.4l0.2 1.5M524.5 468.8l-0.9 -0.9M453.2 500.3l0 0.8M447 487.4l0.2 -1.2M533.3 484.2l-0.9 1.3M501.7 500.3l-0.1 -0.9M573.9 461.9l-1.2 -0.2M554.3 460.5l-2 -0.7M454.3 468.6l-1.1 -0.9M532.7 495l0.5 0.9M479.1 462.1l1.4 -1.2M544.3 460.3l1 -1.5M505 491.9l-0.8 0.3M448.5 470l1 0.3M549.7 489.9l1 -1.4" stroke="#3a3a3a" stroke-width="2.1" fill="none" stroke-linecap="round"/></g><path d="M306.8 137.5l0.4 2.1M344.5 133.6l-1.1 2.2M299.7 142l1.2 0.1M302.5 140.1l-2 0.4M315.8 142l0.6 1M400.8 138.6l-1.1 1.6M411.2 136.4l-1.7 1M393.4 135.9l-1.1 1.3M313 132.9l-0.4 0.9M401.2 132l1 0.1M403.9 134.7l0.8 0.4M274 139.4l-0.8 1.8M375.8 130.9l-0.4 1.4M387.6 141.1l-0.9 0.3M394.9 142.4l-1 0.2M298 131.5l2.2 0.2M386.8 138.6l-1.6 1M310 131.4l2 0.6M297.9 134.3l0.2 0.8M305.5 133.8l-0.9 1.1M314.9 143.1l-0 2.2M358.4 130.4l0.4 1.5M381.1 134.7l-1 1.4M299.6 141.7l2.1 0.6M292.8 130l1.7 1.2M411.1 130.1l0 1.6M384.5 132.5l0 1.4M389.7 133.5l-1.3 0.2M299.3 139.5l0 1M361.1 131.1l-1.6 1.2M383.1 138.5l0.6 1.3M325.7 142.1l2.2 0.6M271.6 132.8l1.6 1.7M341.3 135.2l-1.1 0.4M335.4 137.2l-1.5 1.5M362.5 134.7l0.6 0.9M391.3 139l-0.7 0.8M332.1 140.5l-0.2 1M335.5 142l0.8 0.8M312 139.6l-0.9 0.5M290.7 133.4l0.9 1.4M291.5 134.5l2 1.4M374.6 131.4l-1 0.1M324.2 143.4l-1.6 1.2M331.6 132.7l-0.4 0.9M298.1 135.3l1.5 0.2M383.7 139.4l-0 1.9M335.7 131.9l-0.5 1.4M376.4 142.3l0.4 1.7M377.6 135.7l1.5 1.3M396.7 140.5l-1.3 1.8M367.4 138.7l0.2 1.3M359.9 131.3l0.5 2.1M372.3 138.6l1.1 1.1M334.5 138.5l0.5 1.9M404.1 132.5l-1 1.9M324.8 136.7l-0.9 0.1M347.4 132.2l-1.9 1.5M343.9 131.4l-0.4 1.7M372.9 137l-0.9 2M344.3 135.6l-1.1 0.2M368.1 135.3l-0.7 0.7M412 134.8l1.2 0.2M326.4 130.2l0.4 1.5M370.1 134.8l0.8 0.9M376.5 142.8l-0.1 1.2M385.2 135.3l0.8 0.6M381.6 141l-0.7 1.5M350.2 133.1l-1.4 0.2M361.4 141.1l-1.3 0.9M311 137.5l2 0.8M319.8 141.6l1 1.1M305 135.8l0.7 0.4M373.6 133.8l0.9 0.9M338.1 135.8l-0.8 1.7M321 142.6l-0.8 0.4M389.1 142.3l-0.8 0.7M389.6 138.6l0.8 0M407.2 138.9l0.7 0.7M288.8 133.2l-1.1 0.9" stroke="#555" stroke-width="1.5" fill="none" stroke-linecap="round"/><path d="M625.9 142.3l-0.9 0.7M724.5 138.3l-1.5 1.2M724.8 140.7l-1 0.6M698 137.2l-1.1 1.1M723.3 137.5l0.8 0.9M624.1 136.7l1.6 0.3M624.8 136.7l0 1.7M720.7 130.1l-1.4 0.8M680.6 139l-1.3 0.7M661.4 143.1l1.8 0.4M690.4 130.4l-0.7 1.8M729.9 134.5l-1.7 0.1M670.2 142.2l2 0.2M689 134.6l-1.3 0.6M668.9 137.1l-0.9 0.8M663.6 135.7l-0.4 2.2M644.6 141.3l0.5 1.6M641.8 136.9l-1.9 0.2M711.2 134.5l0.7 1.1M683.8 138.6l-0.7 0.5M702 142l-0.1 0.9M645.6 130.1l2 1.3M686.8 138.9l-1.8 1.4M687.2 138.4l-0.8 1.8M685.1 139.3l1.5 1.2M666.6 140.4l1.1 0.3M610.4 140.5l-1.8 0.5M654.7 141.2l-1.4 1.1M639.9 134.1l0.3 1.3M663 138.7l-0.9 0.2M681.3 130.5l2 0.8M682.3 142.5l0.1 0.8M657.2 138.1l-2.4 0.5M669 135.6l1.8 0.6M633.8 132.1l0.8 0M696.8 131.7l-0.9 0.1M721.6 131.8l2 0.1M637.8 140l0.7 0.5M708.8 139.7l-1.8 0.9M616.8 138.5l-1 1.3M730 133.5l-2 0.2M607 130.2l-1 1.9M616.1 134.2l-0.7 0.8M720.4 136.6l1.4 0.3M682.3 136l-0.6 0.9M711.9 134.9l-0.8 1.7M661.3 135.2l-1.9 1.5M710.2 137.7l0.5 0.7M735.5 139.6l-1.2 0.7M686.4 143.3l-1.6 0.9M646.7 135.8l-1.4 0.5M696.9 138.2l-2.1 0.7M643.3 130l1 1.1M683.8 141.1l-0.8 0.3M716.7 141l-1.6 0.7M642.1 141.6l-1.6 1.1M727.5 134.7l1.7 0.5M712 132.7l-1.7 1.7M636.7 138.3l-0.8 1.3M633.1 133.5l-1.5 1.5M666.9 131.2l-1.7 1.2M636.6 137.9l-2.2 0.7M675.2 136.5l-0.3 1.1M631.2 132.5l-0.8 1.1M680.9 135.5l-0.1 1.1M611.5 143.6l0.4 0.9M690 140.7l1.6 0.9M651.5 137.1l0.9 0.1M737.7 141.8l0.1 1.8M640.4 140.6l0.6 2.3M707.9 141.1l-1.2 0.1M610.6 132.7l0.8 0.5M612.3 137.6l-1.5 0.6M732 142.4l1.8 0.4M658.6 131.6l-1.2 0.2" stroke="#555" stroke-width="1.5" fill="none" stroke-linecap="round"/><path d="M536.8 564.8l-0.4 0.3M562.8 506l-0.1 0.1M543 607.9l0.3 1M441.6 522.6l-0.2 0M483.2 541.7l-0.5 0.2M507.6 526.7l-0.1 0.7M455.2 613.2l0.5 0.5M576.8 535.5l-1 0.1M563.5 604.8l-0.5 0.6M485.7 637.9l-0.4 0.7M441.8 619.3l0.3 0.6M455.4 646l0.5 0.6M571.7 611.6l0.2 0.6M507 546.7l0.4 0.5M587.7 655.3l0.6 0.9M454.7 498.3l-0.4 0.4M514.6 529.6l-0 0.3M454.4 528.6l-1 0.3M446.6 601.5l0.2 0.6M542.7 636l-0.4 0.5M496.3 620.7l0.8 0M558.7 555l0 0.2M525.2 498.8l0.3 0.2M583 536l0.3 0.4M448.9 645.8l-0.5 0.2M440 518.9l-1 0.4M563.2 587.4l-0.1 0.3M578.9 630.1l-0.3 0.4M585.1 634.7l-0.4 0.6M513.2 660.8l0.2 0.5M489.5 588.2l-0 0.7M500.1 583.8l-1 0.1M475.4 590.2l0.2 0.4M525.1 660.5l-0.2 0.2M474.6 577.3l0.5 0.8M478.5 567.1l0 0.1M470.7 512.9l-0.1 0M533.8 532.2l-0.1 0M504.4 591.2l0.4 0M547 516.6l0.4 0.5M581.7 623.6l-0.2 0.2M550.8 578.8l0.1 0.2M523.8 582.6l-0.4 0.4M521.7 569l-0.1 0.2M575.6 553.1l0 0.2M575.6 629.5l0.2 0.6M537.9 587.3l0.1 0M587.4 556.4l-0.1 0.3M560.2 666.3l-0.6 0.3M439.6 567.9l0.3 0.6M480.5 615.4l-0.3 0.8M480.2 641.2l-0.6 0.1M492.8 507.3l-0.2 0.3M544.4 535.6l-0.4 0.3M470.7 527.5l-0.5 0.4M465.2 659.7l0.1 0.2M493.4 512.6l-0.9 0.2M449.9 593.5l-0.4 0.7M481.2 536.5l0.6 0.3M543.5 504.9l0.8 0.4M458.1 531.7l-0.4 0.2M521.4 619.8l-0.1 0.1M433.2 639.8l-0.7 0.3M477.4 505.3l0.5 0.1M527.1 506l-0.3 0.2M561.5 545.8l-0.3 0.3M579.7 570.1l0.3 0.3M530.4 575l-1 0.2M541.2 570.8l-0.6 0.3M576.9 519.7l0.3 0.1M442.2 558.8l0.1 1.1M542.6 612l-0.9 0.3M578.1 557.7l-0.1 0.2M561.8 517.5l0.4 0.5M488.9 533.1l-0.5 0.2M563.1 548.4l0.1 0.8M531.9 641.8l-0.2 0.2M548.1 553.5l0.1 0.5M523.1 511.6l0.3 1M458.4 573.3l0.4 0.3M462.6 620.9l0.2 0.3M512.8 569.6l-0.3 0.3M501.7 593.8l-0.1 0.6M538.2 574l0.3 0.2M535.4 561.2l0.1 0.9M445.4 567.4l0.3 0.3M586.6 620.7l-0.2 0.3M561.7 564.6l0.4 0.7M538.5 638.4l-0.2 0.2M461.7 592.2l0.1 0.1M558.3 659.3l-0.4 0.7M486.1 523.7l-0.2 0.6M461.3 637.1l0.1 0.2M466.5 650l0.1 0.1M537 544.4l0.3 0.2M568.2 629.6l1 0.1M538.6 549.7l0.4 0.2M547.6 584.5l-0.1 0.3M487.3 591.6l-0 0.4M470.7 537.9l0.4 0.2M488.3 629.7l0.9 0.6M572.4 544.9l-0 0.2M464.1 600.5l0.9 0.3M568.7 606.8l0.1 0.9M503.2 545.3l0.6 0.1M566.8 645.8l-0.5 0.1M434.5 653l-0.5 0.4M538.8 513.3l0.2 0.9M575.4 619.8l0 0.3M482.1 647.4l0.1 0.1M508.5 521.1l0.1 0.2M439.7 584.5l-0.2 0.6M482.3 569.3l0.3 0.1M540.6 553.1l-0.1 0.5M518.1 551.7l0.1 0.5M433.1 624.9l1 0.3M491.7 619.1l0.3 0.6M514.6 602.2l-0.1 0M467.6 602.1l-0.1 0.1M571.6 645.5l-0.3 0.2M448.9 558.6l0.2 0M566.1 532.3l-0.1 0.4M555.8 603l-0.4 0.3M439.8 573.2l0.4 0.7M550.3 502.4l-0.1 0.4M451.3 535.5l0.1 0.4M538.6 618.9l0.2 0.3M441.5 615.5l0.3 0.8M523.5 667.7l-0.4 0.3M472.5 644l-0.1 1.1M441.1 589.3l0.4 0.9M489.7 634.2l0.1 0.2M556.4 547.6l-0.3 0.2M440.6 644.6l0.2 0.3M497.3 610l-0.3 0M456.9 653l0.3 0.7M491.9 606.9l-0.9 0.1M545.9 571.1l-0.2 0M514.6 547.4l-0.5 0.1M447.4 580.4l-0.1 0.2M438 599.8l0 0.6M471.3 624.2l-0.1 0.1M569.3 517.9l-0.5 0.8M516.1 518l-0.6 0.5M435.3 658.4l-0.1 0.2M555.6 595l0.2 0.1M468.5 625.5l0.1 0.2M587.6 632.6l0.6 0.2M548.6 520.9l-0.2 0.1M578.3 651.8l0.4 0.8M562 634.4l-0.4 0.4M568 548.8l-0.7 0.7M508.8 500.8l-0.1 0.2M487.8 641.6l0.8 0.4M475.1 660.8l0.4 0.4M462.4 639.2l0 0.8M510.2 559.8l-0.7 0.4M441.8 639.9l-0.5 1M580.7 649.5l-0.2 0.1M492 661.7l0.3 0.6M582.1 529.8l0.1 0.2M553.7 551.5l0.3 0M536.9 625.9l-0 0.2M489.2 654l-0.1 0.8M497 635.3l0.4 0M531.3 615.6l0.6 0.4M565 611.5l-0.8 0M495.6 595.5l0 0.1M510.6 650.7l0.7 0.2M447.5 612.9l0.3 0.2M523.7 566l-0.1 1.1M548.9 659.2l-0.7 0.1M579.5 664.7l-0.2 0M504.9 505.4l-0.6 0M524.6 519.5l-0.6 0.3M470.2 608.4l1 0.1M467 612.2l0.2 0.7M570.9 653.8l-0.3 0.2M556.9 511.2l0 0.1M451.9 608.5l-0.7 0M517.6 557.9l-0.1 0.1M546.2 642.5l0.1 0.3M444.6 517.3l0.1 0.3M496.1 601.9l-0.1 0.2M574.5 640.3l1 0.3M472.2 549.1l-0.5 0.5M483.3 514.1l-0.3 0.5M549.7 544.6l-0.6 0.2M552.4 629.7l-0.5 0.5M556.2 588.4l-0.8 0M446.9 534.1l0.2 1M544 666.2l1.1 0.2M548.6 626l-0.4 0.4M525.7 616.1l-0 0.1M489 522.2l0.5 1M447.7 656.5l-0 1M461 522.4l0.2 0.6M435.3 642.9l-1.1 0.3M471.5 633.3l-0.1 0.1M463.1 535.2l-0.1 1M582.2 643.8l-0.7 0.5M462.7 625.3l0.2 0.4M509.3 666.6l0 1.1M582 552.7l-0.4 0.4M454.3 538.9l0.6 0.2M496.4 661.5l-0.4 0.9M545.5 544.3l-0.2 0.3M433.7 527.4l0 0.1M456 555l0.1 0.1M473.1 507.3l0.1 0.4M458.2 513.5l0.4 0M449.7 605.8l-0.3 0.2M577.8 603.2l0.4 0.3M438.8 664.8l0.7 0.8M552.5 572.4l-0.2 0.1M440.9 547l0.2 0.2M526.6 547.1l0.1 0.2M463 660.9l-0.1 0.7M462.1 569.1l-0.1 0.7M566.8 595.7l0.3 1M551.3 601.1l-0.6 0.3M504.6 566.3l0 0.1M447.3 587l-0 0.4M510.5 611.6l0.2 0.4M526.3 542.1l0.2 0.5M506.1 531.7l-0.4 0.1M541.7 662.4l0 0.4M572.1 634.1l0.4 0.9M539.9 501.7l0.3 0.2M436.4 618.4l0.1 0.6M488.9 664.4l-0.4 0.1M487.4 623.3l-0 0.2M503 647.8l-0.1 0.8M566.2 653.5l-0.9 0.2M581.8 660.4l0.4 0.4M473.7 601.9l0 0.2M499.2 656.7l1.1 0M476.1 561l0.8 0.7M582.1 654.9l-0.5 0.8M539 592.2l0.2 0M458.1 648.6l-0.7 0.1M583.8 508.9l-0.1 0.2M577.5 543.5l0.9 0.3M534.3 525.4l-0.1 0.3M576.2 600.7l-0.7 0M499.5 526.2l-0.4 0.4M575.6 515l-0.9 0.3M500.9 498.6l0.2 0.2M490.9 584.8l0.4 0.5M552.4 617.6l0 1M447.1 576.5l-0.3 0.9M453.9 550.5l0.6 0.1M554.8 575.5l0.6 0.5M581.2 545.8l-0.3 0.5M548.5 646.9l0.5 0.7M435.6 656.1l-0.4 0.2" stroke="#4a4a4a" stroke-width="2.1" fill="none" stroke-linecap="round"/><path d="M520.5 606.9l0.2 0.3M457.8 662.2l0.2 0.2M487.6 651.5l-0.7 0M578.6 613.1l0.1 0.5M524.7 626.8l0.1 0.8M544.2 531.2l0.8 0.2M502.3 514.5l0.5 0.2M530.4 522.3l0 0.2M496.8 524.5l-0.1 0.4M563.1 554.9l-0.2 0.2M450.7 664.4l0.4 0.2M464.3 559.9l0.1 0.5M477.9 650.4l0.3 0.7M545.6 547.9l0.4 0.1M489.9 525.8l-0.3 0.2M502.1 585.7l-0.2 0.2M549.5 508.4l0.8 0.2M515.2 589.3l0 0.4M448.9 540.6l0.3 0.3M437.7 514.4l-0.2 0.2M463.2 501l0.3 0.1M522.4 586.9l-0.4 0.4M510.6 545.5l0.6 0.6M566.5 523l0.5 0.4M548.7 525.9l-0.5 0.4M578.3 564.1l-0.2 0.1M471.6 569.8l-0.3 0.6M454.6 662.8l0.1 0.9M578.2 605.6l-0.3 0.3M570.1 648.4l-0.7 0.4M532.4 543.2l-0.3 0.2M529.3 540.6l-0.7 0.4M500.2 659.6l0.3 0.1M480.3 608.1l0.2 0.3M456 519.1l0.3 0.3M467.3 585.1l0.2 0.3M566.6 538.6l-0.5 0M478.8 629.3l-0.3 0.1M442.6 563.9l-0.5 0.3M485.2 557.9l-0.3 0.7M528.5 642.5l-0.7 0.5M513.3 623.6l-0.4 0.1M542.8 653.5l-0.4 0.8M568 498.7l-0.7 0.6M568.3 601.2l-0.2 0.3M503.1 575.8l0.3 0.1M492.6 552.7l-0.4 0.1M461.6 549.7l-0.4 0.3M522.2 596.9l-0.3 0M499.1 652.8l-0.4 0.2M440.4 594l0.4 0.4M587.7 586l0.3 0.5M525.2 557.7l0.7 0.5M522 647.6l-0.8 0.4M508.4 572.8l0.6 0M584.7 638.4l0.5 0.2M450.1 650.1l-0.2 0.7M512.3 583.8l0.7 0.1M461.3 605.1l0.4 0.5M487.7 666.9l-0.7 0.3M518.8 543.2l-0.2 0.8M515.4 667.5l0 0.2M496.7 518.7l-0.7 0.1M550.7 516.1l-0.2 0.5M459.4 586.8l-0.7 0.1M543.9 558.2l0.6 0.5M577.3 643.3l0.3 0.5M572.3 636.7l-0.7 0.6M580.2 539.3l-0 0.4M461.9 663.2l0.1 0.2M520 517.5l0.7 0.4M452.1 638.4l-0.1 0.5M452.8 573.4l0.1 0.2M468.2 575l0.6 0.2M542.5 542.3l0.5 0.2M524.1 560.6l0.6 0.5M527.3 534.1l0.6 0.5M534.9 594.5l-0.8 0M510.6 548.5l0.4 0.5M437.6 613.5l0.6 0.6M487.5 568.1l0.6 0.3M487.6 604.9l0.4 0.6M450.2 632.5l-0.1 0.7M574.7 625.4l0.1 0.3M540.2 623.6l0 0.6M531.8 590.5l0.7 0.3M525.8 576.4l-0.4 0.7M505.6 559.7l0.1 0.8M444.1 499.8l-0.3 0.1M584.9 593.8l0.2 0.8M517.2 499.4l-0.2 0.1M532.9 604.7l-0.4 0.2M459.1 631.4l-0.3 0M518.4 560.8l-0.8 0.1M530.4 637.4l0.4 0.2M446.9 504.8l-0.1 0.6M563.3 643.4l-0.5 0M498.9 546.2l0.3 0.1M573.1 526l-0.3 0.2M567.1 663.6l-0.5 0.1M537.8 601.6l0.4 0.1M521.5 660l0.5 0.4M570.2 502.7l0.4 0.5M497.5 588.1l-0.4 0.3M570.9 591.2l0.2 0.6M515.3 540.8l-0.3 0M518.9 536.5l-0.2 0.5M501.1 644.8l0 0.2M543.8 626.7l-0.5 0.6M454.2 629.9l-0.5 0.3M469.7 561.3l-0.5 0M575.2 646l-0.4 0.3M490.8 623.3l0 0.7M539.5 562.7l-0.3 0.7M568.3 634.1l0.2 0.3M493.8 578.9l0.5 0.3M527.7 510.9l-0.2 0.2M439.8 526.9l-0.4 0.1M505.5 596.1l-0.3 0.3M487.8 499l0.4 0.4M585.9 505.7l0.9 0M531.4 559.7l0.4 0M556.3 646.4l0.3 0.2M442.4 555.3l0.3 0.6M586.2 579.8l-0.1 0.7M479.9 526.7l0.6 0.2M479.7 550.4l0.8 0.1M518.4 657.4l-0 0.4M575.8 597.2l0 0.4M460.7 596.7l-0.1 0.3M567.6 509.5l0.1 0.2M582.3 600.2l0.7 0.3M465.9 553.5l0.1 0.4M533.6 566.9l-0.4 0M485.4 507.8l-0 0.3M440 604.5l-0.3 0.1M509.6 599.6l-0.2 0.7M520.4 665.9l0.4 0.6M528.2 621.1l-0.3 0.3M484.3 624l-0.4 0.3M506.7 609.4l-0.2 0.1M453.8 508.2l-0.5 0M547.4 654.6l0.8 0.2M437.5 630.3l-0.2 0.7M483.2 651.6l0.5 0.6M468.9 532.5l0.3 0.2M466.6 594.8l-0.2 0.6M484.4 580.5l-0.3 0M553.9 644.8l0.7 0.1M566.9 667.1l0 0.5M555.8 615.2l-0.6 0.2M511.2 537.4l-0.6 0M569.9 622.3l-0.5 0.5M460.5 543l-0.3 0.3M539.7 609l0.1 0.3M518.1 615.3l-0.8 0.1M455.2 667.7l-0.3 0.6M527.2 655.5l-0.1 0.6M527.7 562.1l-0.3 0.6M463.8 517.7l-0.4 0.4M554.5 652.4l0.1 0.3M482.9 604.9l0 0.4M513.9 579l0.3 0.3M455 655.6l0.1 0.8M492.1 639.5l0.7 0.3M452.1 524.2l-0.6 0.7M513.8 575l-0.2 0.1M494.3 667.5l-0.5 0.2M490.5 555.8l0.6 0.2M435.8 532.1l0.4 0.3M475.6 553.1l0.7 0.3M533.5 635.8l0.4 0.7M492.7 596.4l0.1 0.3M490.7 611.2l0.3 0.6M560.8 612l0.4 0.4M518.8 628.8l-0.3 0.2M549.8 594l0.3 0.2M475.6 542.6l-0.5 0.1M565.8 541.7l0.3 0.4M505 581.1l-0 0.5M575.5 592.5l0.6 0M481.7 588.6l0.5 0.1M557.4 598.7l0.3 0.3M525.4 528.6l-0.4 0.6M520 634.1l0.6 0.2M465.7 640.5l-0.2 0.7M573.4 614.6l0.4 0.1M523.2 552.2l-0.3 0.2M584.9 564.6l0.4 0.1M517.6 513.9l0.4 0.5M525.7 589.9l0.5 0.3M454.7 544.1l0.2 0.1M486.4 658.5l-0.7 0.2M484.4 641.2l0.7 0.3M473.9 503.3l0.2 0.6M446.1 596.3l0.1 0.2M525.3 631.3l-0.8 0.2M442.6 539.8l-0.5 0.4M558.6 576.5l0.2 0.2M510.1 630.5l-0.6 0.5M549.5 606.2l0.4 0.2M447.3 620l0.3 0.6M500.5 638.3l-0.3 0.4M515.4 658.8l0.3 0.3M583.1 631.9l0.4 0.6M493.8 631.3l0.2 0.6M538.8 658.1l-0.3 0.1M558.9 569.2l-0.4 0.6M503.9 555l0.2 0M478.3 513l0.7 0.3M439.4 637.9l-0.6 0.6M571.6 565l-0.4 0.6M579.5 575.3l-0.4 0.2M471.9 557.9l-0.1 0.5M518.7 644.6l-0.6 0.1M513.9 613l0.7 0.4M438.4 553.3l0.3 0.3M493.8 625.1l0.1 0.6M540.1 545.2l-0.6 0.7M522.2 638.4l0.2 0.1M502.8 640.3l-0.8 0.1M477.7 605.1l-0.3 0.3M474.2 539.4l0.1 0.7M494.1 657.9l-0.7 0.4M572.7 520.7l0.5 0.3M542.1 602.1l-0.4 0.1M557.3 559.2l-0.5 0.3M530.6 555.8l0.8 0.3M484.1 665.7l0.4 0M486 530.3l-0.1 0.4M545 620.3l0.6 0.6M544.9 605.1l0.1 0.2M586.7 550l0.2 0.3M460.2 558.4l-0.2 0.3M506 666.4l-0.3 0.1M546.5 563.3l-0.4 0.3M563.4 520.8l-0.1 0.8M515.8 510.1l-0.6 0.3M555.1 638l0.5 0.3M547.9 504.5l0.4 0.3M565 592.5l0.7 0.4M584.7 628.7l0.2 0.4M525.8 586.4l-0.3 0.3M499.8 647.3l0.3 0.6M585 609.2l0.4 0.3M496.9 501.6l0.3 0.5M573.5 500.3l0.6 0.5M465.4 542.1l-0.4 0.7M442.9 509.4l-0.3 0.1M509.5 662.8l0.4 0.4M448.5 549.5l0.1 0.1M462.4 651.8l-0.2 0.2M582.3 559.8l-0.4 0.6M492 628l0.4 0.5M489 577.8l0.1 0.2M579.3 587.2l0.7 0.3M504.4 622.3l0.4 0.4M434.7 609l0.1 0.2M526.8 608.7l-0.2 0.7M565.9 560.5l-0.7 0.2M572.7 511.9l-0.2 0.2M506.9 585l0 0.2M587.9 575.6l-0.4 0.4M486.2 611.7l0.5 0.7M433 601.3l-0.2 0.7M449.1 501l-0.2 0.3M558.1 609.1l0.5 0.4M572.1 595l0.3 0.4M535.8 628.4l0.2 0.2M498.2 511.2l0.1 0.2M579.1 596.1l-0.5 0.2M551.9 640l-0.2 0.6M463.4 628.3l0.5 0M472.6 637.7l0.7 0.3M462.2 655.9l0 0.7M467.3 547.4l-0 0.3M473.4 524.7l0.2 0.2M512.6 523.7l-0.3 0.6M569 576.5l0.5 0.1M506.9 619.1l-0.2 0.2M503.6 606.3l-0.7 0.4M453 577.2l0.5 0.4M453.9 516.1l-0.1 0.6M499 555.5l0.6 0.4M470.6 663.2l0.2 0.2M544 622.8l0.6 0.2M459.8 624.6l-0.2 0.2M496.6 606.1l-0.1 0.7M550.1 539.5l-0.6 0.1M453.7 589.7l0.6 0.5M564.4 647.4l0.4 0.3M578.4 624.5l-0.2 0.3M534.1 506.2l-0.3 0.4M448.6 553.6l-0.9 0M556.5 536.6l-0.2 0.3M443.5 624l0.1 0.8M581.6 616.3l0.4 0.1M500 620l0.2 0.1M548.4 634.3l0.4 0.2M581.3 668l-0.4 0.3M472.6 585.8l-0.1 0.5M526.5 651.7l-0.2 0.6M562.9 655.3l0.4 0M443.8 633.5l-0.1 0.6M461.5 579.6l-0.4 0.1M564.7 621.8l0.2 0.2M455.5 560.2l0.1 0.2M495.4 529l-0.6 0.4M574.5 589.6l-0.5 0.2M579.8 591.7l0.2 0.1M438.9 507.5l-0.5 0.3M493.6 541.1l-0.2 0.5M584.1 667.1l-0.3 0.8M501.1 632.5l0 0.5M554.8 585.5l0.9 0.2M528.4 551.8l0.8 0.4M474.7 651.6l-0.8 0.3M521.9 652.2l0.6 0.4M533.6 514.6l-0.2 0.2M580.3 578.4l0.4 0.1M565 649.8l-0.3 0.3M581.8 664.9l0.7 0.3M523.3 662.4l0.1 0.7M479.5 662.8l0.6 0.2M481.5 594.6l0.8 0M495.8 616.6l-0.2 0.8M561.7 664.8l-0.1 0.2M587.1 666.9l-0 0.7M457.8 583.5l0.3 0.5M507 563.9l0.4 0.4M562.4 574.9l0.3 0.7M446.8 608.3l-0.1 0.3M457.3 604.3l0.1 0.8M511.6 555l0.3 0.3M548.1 619.9l0.4 0.4M459.1 611.8l0.2 0.5M509.8 635.5l0.4 0.1M577.8 636.5l-0.2 0.1M454.9 580.2l0.1 0.4M557.1 517.2l0.1 0.3M486.9 616.2l-0.2 0.7M433.6 505.2l-0.6 0.1M494.6 599.2l0 0.6M436.1 564.3l0.7 0.2M438.9 633.4l0.5 0.1M490.2 571.5l-0.2 0.3M477.8 617.3l-0.4 0.7M585.2 526.8l0 0.3M465.5 647.2l0.4 0.2M490.3 517.4l0.7 0M537.7 582.5l0.8 0.3M454.1 602.2l0.2 0.3M583.7 621.8l-0.6 0.2M564.1 528.1l-0.2 0.1M515.6 644.6l0 0.9M529.7 518.5l-0.6 0.2M518.6 602.1l-0.2 0.4M455.2 616.9l0.3 0.4M466.8 572.4l-0.1 0.2M556.8 541.2l-0.3 0.5M496.9 584.6l-0.2 0.3M480.5 621.6l-0.3 0.4M507.4 509.1l-0.1 0.5M446 541l-0.4 0.7" stroke="#8a8a8a" stroke-width="2" fill="none" stroke-linecap="round"/><path d="M467.4 504.6l-0.7 1.2M567.3 649.1l-1.5 -1.6M509.1 552.1l1.1 -0.5M435.5 635.2l-2.5 0.8M475.5 533l-2.5 0.9M464.4 509.2l1.2 -0.6M567 581.8l0.9 1.3M574.1 579l1.3 0.8M482.8 618.9l1.7 -0.6M580.9 582.1l-0.7 -2M470.3 555l-0.7 -1.2M559.3 642.1l1 2.6M505.7 550.8l-0.5 -2.1M443.4 646.1l-0.6 -2.4M562.9 661l-1.8 0.2M491 566.2l-2.2 1.2M559.5 527l-1.7 -0.5M528 635.1l-1.1 2.4M434.9 629l0.3 -1.2M452 585.2l1.7 -1.9M474.9 629.2l0.3 -2.4M450.9 653.2l-0.5 2.4M500.4 614.3l-0.7 -1.2M573.3 658.6l-2.1 -0.3M504.4 663.1l2.1 0.9M533.3 548.9l-1.3 0.1M529.3 646.3l0.9 -0.9M562.9 596.8l0.2 -1.5M504.8 500.3l1.3 -0.4M447.5 524.6l1.7 -0.7M486.4 634.1l1.7 -0.9M495.3 644.9l1.4 -0.8M472 542.6l1.8 2.1M549.5 637.9l-1.1 0.6M460.7 614.5l1.7 -0.9M469.3 605l-0.3 -1.8M444 626.5l1.5 1.5M537.4 612.7l0.8 1.4M576.1 667.3l-1.3 -1.1M487.7 561.7l-0.6 1.3M546.7 613.4l1.2 -1.2M562.9 537.5l0.9 2.6M504 538.2l0.8 -1.9M491.4 655.9l1.9 -1.4M519.4 574.1l0.9 0.9M433.5 605l-2.3 -0.6M511.7 533.6l-0.6 -1.7M532 654.3l2 1.3M510.9 603.4l0.1 -2.2M532.7 598.5l1.1 0.5M468.1 643.4l-0.7 2.1M543.3 513.9l-0.9 1.5M501.2 518.1l2.6 -0.4M459.5 645l2.1 1.4M436.8 578l1.9 -0.2M581.8 523.4l-0.5 1.3M513.9 596.8l-0.5 -2.3M433.6 537.1l-0.1 1.8M556.6 634.3l0.3 2.6M536.6 535.7l1.4 -2.2M456 643.3l1.7 1.2M569.9 666.7l-2.6 -1M530.8 634.6l1 1.1M458.1 535.1l-0.1 -1.8M460.1 528.6l1 -1.1M441.3 666l1.6 0.8M506.5 631.6l-2.1 -0.2M528 663.1l-1.7 -0.9M560.8 500.2l1.6 -0.3M456.2 598.1l1.3 1M452 642.1l-1.7 -0.1M450.9 562.7l-1.3 -1.6M507.8 622.3l-0.9 1.2M470.8 597.8l-0.7 -2.1M433.3 513.9l1.9 1.9M515.5 553.7l-2.6 -1M572.3 555.6l-0.4 -1.4M494.4 536.1l-0.4 2.7M447.6 544.9l-2.6 0.2M540.1 524.1l-0.8 1" stroke="#4a4a4a" stroke-width="1.6" fill="none" stroke-linecap="round"/><polyline points="589.9,78 633.4,32 710.8,32" stroke="#535353" stroke-width="1.6" fill="none"/><polyline points="671,211.9 770.7,184.8 854.9,184.8" stroke="#535353" stroke-width="1.6" fill="none"/><polyline points="616.3,355.4 770.7,313 863.8,313" stroke="#535353" stroke-width="1.6" fill="none"/><polyline points="602.2,431.5 769,390.2 848.8,390.2" stroke="#535353" stroke-width="1.6" fill="none"/><polyline points="602.7,546.9 769.5,505.9 864.7,505.9" stroke="#535353" stroke-width="1.6" fill="none"/><polyline points="183.1,325.9 239.7,325.9 446.2,436.4" stroke="#535353" stroke-width="1.6" fill="none"/><polyline points="189.1,554.1 239.7,554.1 444.8,665.4" stroke="#535353" stroke-width="1.6" fill="none"/><path d="M669.5 4.9V21.3" stroke="#3c3c3c" stroke-width="2.1" fill="none"/><path d="M670.5 4.6L665.5 8.1L666.4 9.5L670.5 8.1Z" fill="#3c3c3c"/><path d="M682.5 4.9V21.3" stroke="#3c3c3c" stroke-width="2.1" fill="none"/><path d="M683.5 4.6L678.5 8.1L679.4 9.5L683.5 8.1Z" fill="#3c3c3c"/><path d="M671.3 97.2V113.6" stroke="#3c3c3c" stroke-width="2.1" fill="none"/><path d="M672.3 96.9L667.3 100.4L668.2 101.8L672.3 100.4Z" fill="#3c3c3c"/><g transform="translate(680.8 97.2) scale(1 1)"><path d="M0.4 4C0.6 1.4 2.4 0 4.8 0C7.5 0 9.2 1.8 9.2 4.2C9.2 6.6 7.6 8.2 4.6 10.8L0 16.2H9.6" stroke="#3c3c3c" stroke-width="2" fill="none" stroke-linejoin="round" vector-effect="non-scaling-stroke"/></g><path d="M813.2 158.4V174.8" stroke="#3c3c3c" stroke-width="2.1" fill="none"/><path d="M814.2 158.1L809.2 161.6L810.1 163L814.2 161.6Z" fill="#3c3c3c"/><g transform="translate(822.8 158.4) scale(0.95 1)"><path d="M0.2 3.6C0.8 1.2 2.7 0 5 0C7.5 0 9 1.6 9 4C9 6.2 7.3 7.6 4.4 7.6C7.4 7.6 9.8 9.2 9.8 12C9.8 14.6 7.7 16.2 5 16.2C2.5 16.2 0.6 14.8 0 12.4" stroke="#3c3c3c" stroke-width="2" fill="none" stroke-linejoin="round" vector-effect="non-scaling-stroke"/></g><path d="M818.2 286.2V302.6" stroke="#3c3c3c" stroke-width="2.1" fill="none"/><path d="M819.2 285.9L814.2 289.4L815.1 290.8L819.2 289.4Z" fill="#3c3c3c"/><g transform="translate(827.8 286.2) scale(1 1)"><path d="M8.3 16.2V0L0 10.9H10.6" stroke="#3c3c3c" stroke-width="2" fill="none" stroke-linejoin="round" vector-effect="non-scaling-stroke"/></g><path d="M818 363.3V379.7" stroke="#3c3c3c" stroke-width="2.1" fill="none"/><path d="M819 363L814 366.5L814.9 367.9L819 366.5Z" fill="#3c3c3c"/><g transform="translate(827.8 363.3) scale(0.9 1)"><path d="M9.2 0.3H1.2L0.5 7.2C1.6 5.9 3.2 5.3 5 5.3C7.8 5.3 9.5 7.5 9.5 10.6C9.5 14 7.5 16.2 4.8 16.2C2.3 16.2 0.6 14.9 0 12.6" stroke="#3c3c3c" stroke-width="2" fill="none" stroke-linejoin="round" vector-effect="non-scaling-stroke"/></g><path d="M816.6 479.2V495.6" stroke="#3c3c3c" stroke-width="2.1" fill="none"/><path d="M817.6 478.9L812.6 482.4L813.5 483.8L817.6 482.4Z" fill="#3c3c3c"/><g transform="translate(825.6 479.2) scale(0.9 1)"><path d="M9.3 3.3C8.6 1.2 7.1 0 5 0C1.8 0 0 3 0 8.4C0 13.5 2 16.2 5.1 16.2C8 16.2 10 14 10 10.8C10 7.6 8 5.6 5.2 5.6C2.6 5.6 0.6 7.4 0 9.6" stroke="#3c3c3c" stroke-width="2" fill="none" stroke-linejoin="round" vector-effect="non-scaling-stroke"/></g><path d="M202.3 522.7V539.1" stroke="#3c3c3c" stroke-width="2.1" fill="none"/><path d="M203.3 522.4L198.3 525.9L199.2 527.3L203.3 525.9Z" fill="#3c3c3c"/><g transform="translate(211.6 522.7) scale(1 1)"><path d="M0 0.4H9.2C6.2 4.6 3.6 10 2.8 16.2" stroke="#3c3c3c" stroke-width="2" fill="none" stroke-linejoin="round" vector-effect="non-scaling-stroke"/></g><path d="M200.6 297.6V314" stroke="#3c3c3c" stroke-width="2.1" fill="none"/><path d="M201.6 297.3L196.6 300.8L197.5 302.2L201.6 300.8Z" fill="#3c3c3c"/><g transform="translate(210.2 297.8) scale(1 1)"><path d="M5.2 7.9C2.9 7.9 1 6.2 1 4C1 1.8 2.9 0 5.2 0C7.5 0 9.4 1.8 9.4 4C9.4 6.2 7.5 7.9 5.2 7.9ZM5.2 7.9C2.4 7.9 0 9.8 0 12.05C0 14.3 2.4 16.2 5.2 16.2C8 16.2 10.4 14.3 10.4 12.05C10.4 9.8 8 7.9 5.2 7.9Z" stroke="#3c3c3c" stroke-width="2" fill="none" stroke-linejoin="round" vector-effect="non-scaling-stroke"/></g></g><rect x="0" y="783.8" width="1024" height="2" fill="#e4e4e4"/></svg></body></html>
